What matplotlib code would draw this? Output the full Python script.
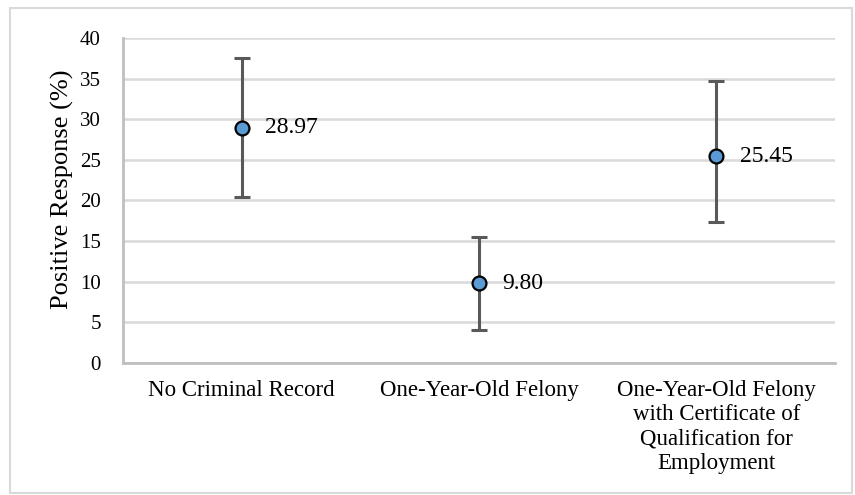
import matplotlib
matplotlib.use("Agg")
import matplotlib.pyplot as plt
from matplotlib.patches import Rectangle

categories = ["No Criminal Record", "One-Year-Old Felony",
              "One-Year-Old Felony\nwith Certificate of\nQualification for\nEmployment"]
values = [28.97, 9.80, 25.45]
upper = [37.5, 15.5, 34.7]
lower = [20.4, 4.1, 17.4]
labels = ["28.97", "9.80", "25.45"]
yticks = [0, 5, 10, 15, 20, 25, 30, 35, 40]

FONT = 'Liberation Serif'
plt.rcParams['font.family'] = [FONT, 'DejaVu Serif']

fig = plt.figure(figsize=(8.55, 4.95), dpi=100)
ax = fig.add_axes([0.1439, 0.2667, 0.8327, 0.6565])

fig.patches.append(Rectangle((10/855, 2/495), 842/855, 485/495, transform=fig.transFigure,
                             fill=False, edgecolor='#d9d9d9', linewidth=1.5, zorder=0))

x = list(range(len(categories)))
yerr = [[v - l for v, l in zip(values, lower)], [u - v for v, u in zip(values, upper)]]
ax.errorbar(x, values, yerr=yerr, fmt='none', ecolor='#595959', elinewidth=2.2,
            capsize=6, capthick=2.2, zorder=3)
ax.plot(x, values, 'o', markersize=10, markerfacecolor='#5b9bd5',
        markeredgecolor='black', markeredgewidth=1.6, zorder=4)
for xi, v, t in zip(x, values, labels):
    ax.annotate(t, (xi, v), xytext=(17, 0), textcoords='offset points',
                ha='left', va='center', fontsize=17, color='black', fontfamily=FONT)

ax.set_xlim(-0.5, 2.5)
ax.set_ylim(0, 40)
ax.set_yticks(yticks)
ax.set_yticklabels([str(t) for t in yticks], fontsize=15, fontfamily=FONT)
ax.set_xticks(x)
ax.set_xticklabels(categories, fontsize=16.5, linespacing=1.22, fontfamily=FONT)
ax.tick_params(axis='y', length=0, pad=16)
ax.tick_params(axis='x', length=0, pad=12)
ax.set_ylabel("Positive Response (%)", fontsize=19, fontfamily=FONT)
ax.yaxis.set_label_coords(-0.069, 0.535)
ax.yaxis.grid(True, color='#d9d9d9', linewidth=1.8)
ax.set_axisbelow(True)
for s in ['top', 'right']:
    ax.spines[s].set_visible(False)
for s in ['left', 'bottom']:
    ax.spines[s].set_color('#bfbfbf')
    ax.spines[s].set_linewidth(2)

fig.savefig("out.png", dpi=100)
